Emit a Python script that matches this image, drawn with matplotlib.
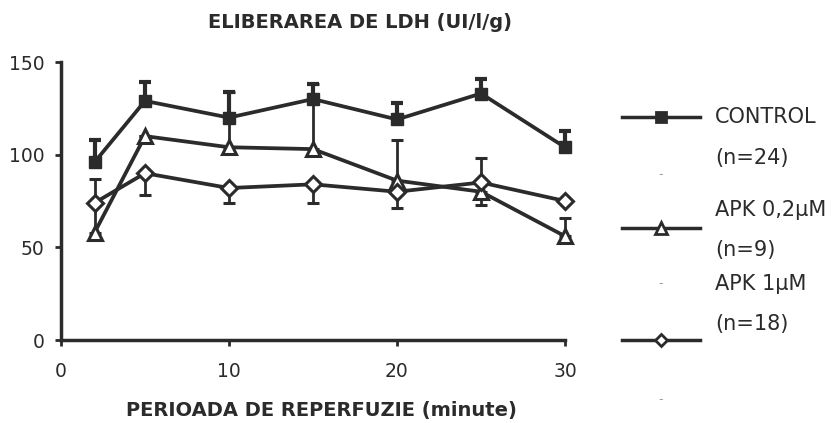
import numpy as np
import matplotlib
matplotlib.use('Agg')
import matplotlib.pyplot as plt
from matplotlib.lines import Line2D

# reperfusion time (minutes)
minutes = [2, 5, 10, 15, 20, 25, 30]

control = [96, 129, 120, 130, 119, 133, 104]
control_up = [12, 10, 14, 8, 9, 8, 9]

apk02 = [58, 110, 104, 103, 86, 80, 56]
apk02_up = [29, 0, 30, 35, 22, 18, 10]

apk1 = [74, 90, 82, 84, 80, 85, 75]
apk1_down = [0, 12, 8, 10, 9, 12, 0]

labels = [["CONTROL", "(n=24)"], ["APK 0,2μM", "(n=9)"], ["APK 1μM", "(n=18)"]]

ink = '#2b2b2b'
plt.rcParams['font.family'] = ['DejaVu Sans']

fig = plt.figure(figsize=(8.33, 4.23), dpi=100)
ax = fig.add_axes([61 / 833, 1 - 340 / 423, (565 - 61) / 833, (340 - 62) / 423])

zeros = np.zeros(len(minutes))
ax.errorbar(minutes, apk02, yerr=[zeros, apk02_up], color=ink, lw=2.7, marker='^',
            ms=10, mfc='white', mec=ink, mew=2.2, capsize=4, capthick=2.2, elinewidth=2, zorder=3)
ax.errorbar(minutes, apk1, yerr=[apk1_down, zeros], color=ink, lw=2.7, marker='D',
            ms=8, mfc='white', mec=ink, mew=2.2, capsize=4, capthick=2.2, elinewidth=2, zorder=3)
ax.errorbar(minutes, control, yerr=[zeros, control_up], color=ink, lw=2.7, marker='s',
            ms=8, mfc=ink, mec=ink, capsize=4, capthick=3, elinewidth=3, zorder=4)

ax.set_xlim(0, 30)
ax.set_ylim(0, 150)
ax.set_xticks([0, 10, 20, 30])
ax.set_yticks([0, 50, 100, 150])
for s in ['top', 'right']:
    ax.spines[s].set_visible(False)
for s in ['left', 'bottom']:
    ax.spines[s].set_linewidth(2.5)
    ax.spines[s].set_color(ink)
ax.tick_params(direction='out', length=4, width=2, colors=ink, labelsize=13.5)
ax.tick_params(axis='x', pad=12)
ax.tick_params(axis='y', pad=8)
for c in ax.get_children():
    c.set_clip_on(False)


def fx(px):
    return px / 833


def fy(py):
    return 1 - py / 423


fig.text(fx(360), fy(23), "ELIBERAREA DE LDH (UI/l/g)", fontsize=14, fontweight='bold',
         color=ink, ha='center', va='center')
fig.text(fx(321), fy(410), "PERIOADA DE REPERFUZIE (minute)", fontsize=14, fontweight='bold',
         color=ink, ha='center', va='center')

# legend drawn by hand to the right
markers = [('s', ink, 7), ('^', 'white', 8), ('D', 'white', 6)]
line_y = [117, 228, 340]
text_y = [[117, 158], [210, 250], [284, 324]]
for (m, fc, ms), ly, (t1, t2), (l1, l2) in zip(markers, line_y, text_y, labels):
    fig.add_artist(Line2D([fx(622), fx(661), fx(700)], [fy(ly)] * 3, color=ink, lw=2.5,
                          marker=m, markevery=[1], ms=ms, mfc=fc, mec=ink, mew=2))
    fig.text(fx(715), fy(t1), l1, fontsize=15, color=ink, va='center')
    fig.text(fx(715), fy(t2), l2, fontsize=15, color=ink, va='center')

for py in [175, 284, 400]:
    fig.text(fx(661), fy(py), "-", fontsize=9, color='#999999', ha='center', va='center')

plt.savefig('out.png', dpi=100)
